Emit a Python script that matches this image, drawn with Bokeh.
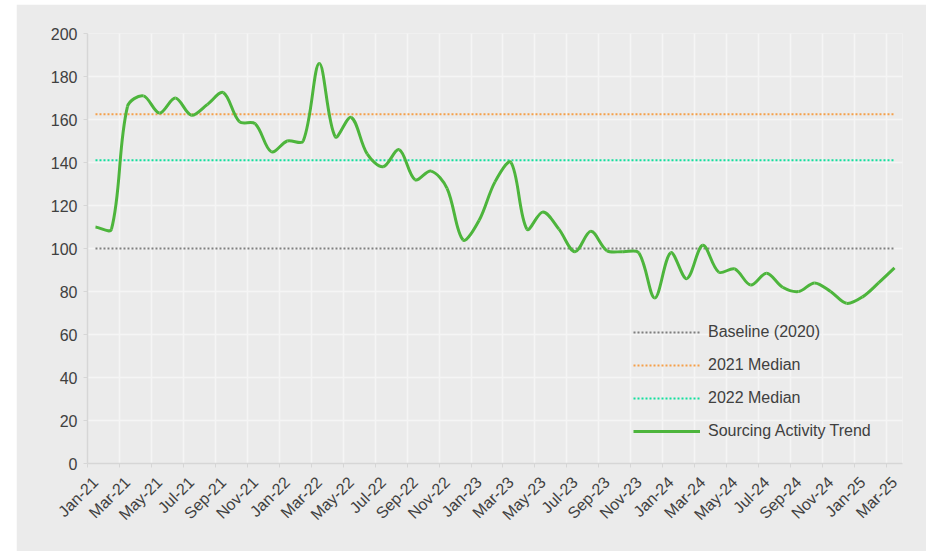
import math
from bokeh.plotting import figure
from bokeh.models import Range1d, FixedTicker, Legend, LegendItem, ColumnDataSource, Spacer
from bokeh.layouts import row, column
from bokeh.embed import file_html
from bokeh.resources import INLINE

# ---- data ----
months = ["Jan-21", "Feb-21", "Mar-21", "Apr-21", "May-21", "Jun-21", "Jul-21", "Aug-21", "Sep-21", "Oct-21", "Nov-21", "Dec-21",
          "Jan-22", "Feb-22", "Mar-22", "Apr-22", "May-22", "Jun-22", "Jul-22", "Aug-22", "Sep-22", "Oct-22", "Nov-22", "Dec-22",
          "Jan-23", "Feb-23", "Mar-23", "Apr-23", "May-23", "Jun-23", "Jul-23", "Aug-23", "Sep-23", "Oct-23", "Nov-23", "Dec-23",
          "Jan-24", "Feb-24", "Mar-24", "Apr-24", "May-24", "Jun-24", "Jul-24", "Aug-24", "Sep-24", "Oct-24", "Nov-24", "Dec-24",
          "Jan-25", "Feb-25", "Mar-25"]
activity = [110, 109, 166, 171, 163, 170, 162, 167, 172.5, 159, 158, 145,
            150, 150, 186, 152, 161, 144, 138, 146, 132, 136, 128, 104,
            113, 131, 140, 109, 117, 109, 98.5, 108, 99, 98.5, 98, 77,
            98, 86, 101.5, 89, 90.5, 83, 88.5, 82, 80, 84, 80, 74.5,
            77.5, 84, 91]
baseline_2020 = 100
median_2021 = 162.5
median_2022 = 141
y_ticks = [0, 20, 40, 60, 80, 100, 120, 140, 160, 180, 200]

FONT = "Liberation Sans"
TXT = "#404040"
BG = "#ebebeb"

W, H = 910, 547
BL, BR, BT, BB = 71, 24, 29, 88

idx = list(range(len(months)))
n = len(idx)

# pixel scales (used only to weight the smoothing like a spreadsheet's smoothed line)
sx = (W - BL - BR) / n
sy = (H - BT - BB) / 200.0

def dist(i, j):
    return math.hypot((idx[j] - idx[i]) * sx, (activity[j] - activity[i]) * sy)

out_c, in_c = [], []
for i in range(n):
    a = max(i - 1, 0)
    b = min(i + 1, n - 1)
    tx = idx[b] - idx[a]
    ty = activity[b] - activity[a]
    dp = dist(a, i) if i > 0 else 0.0
    dn = dist(i, b) if i < n - 1 else 0.0
    tot = dp + dn if dp + dn > 0 else 1.0
    k = 1.0 / 3.0
    out_c.append((idx[i] + tx * k * dn / tot, activity[i] + ty * k * dn / tot))
    in_c.append((idx[i] - tx * k * dp / tot, activity[i] - ty * k * dp / tot))

seg = dict(x0=[], y0=[], x1=[], y1=[], cx0=[], cy0=[], cx1=[], cy1=[])
for i in range(n - 1):
    seg["x0"].append(idx[i]); seg["y0"].append(activity[i])
    seg["x1"].append(idx[i + 1]); seg["y1"].append(activity[i + 1])
    seg["cx0"].append(out_c[i][0]); seg["cy0"].append(out_c[i][1])
    seg["cx1"].append(in_c[i + 1][0]); seg["cy1"].append(in_c[i + 1][1])

p = figure(width=W, height=H, output_backend="svg", toolbar_location=None,
           x_range=Range1d(-0.5, n - 0.5), y_range=Range1d(0, 200),
           min_border_left=BL, min_border_right=BR, min_border_top=BT, min_border_bottom=BB)
p.background_fill_color = BG
p.border_fill_color = BG
p.outline_line_color = None

# grid
p.xgrid.ticker = FixedTicker(ticks=[i + 0.5 for i in idx[1:-1:2]])
p.xgrid.grid_line_color = "#f5f5f5"
p.xgrid.grid_line_width = 1.5
p.ygrid.ticker = FixedTicker(ticks=y_ticks)
p.ygrid.grid_line_color = "#f5f5f5"
p.ygrid.grid_line_width = 1.5

# axes
xa = p.xaxis[0]
xa.ticker = FixedTicker(ticks=idx[::2], minor_ticks=[i - 0.5 for i in idx[::2]])
xa.major_label_overrides = {i: months[i] for i in idx[::2]}
xa.major_label_orientation = math.pi / 4
xa.major_tick_line_color = None
xa.minor_tick_line_color = "#d6d6d6"
xa.minor_tick_out = 4
xa.minor_tick_in = 0
xa.axis_line_color = "#d6d6d6"
xa.axis_line_width = 1.5
xa.major_label_text_font = FONT
xa.major_label_text_font_size = "16px"
xa.major_label_text_color = TXT
xa.major_label_standoff = 10

ya = p.yaxis[0]
ya.ticker = FixedTicker(ticks=y_ticks)
ya.minor_tick_line_color = None
ya.major_tick_line_color = "#d6d6d6"
ya.major_tick_out = 4
ya.major_tick_in = 0
ya.axis_line_color = "#d6d6d6"
ya.axis_line_width = 1.5
ya.major_label_text_font = FONT
ya.major_label_text_font_size = "16px"
ya.major_label_text_color = TXT
ya.major_label_standoff = 6

# reference lines
ends = [idx[0], idx[-1]]
r_base = p.line(ends, [baseline_2020] * 2, line_color="#7f7f7f", line_width=2, line_dash="2 2")
r_m21 = p.line(ends, [median_2021] * 2, line_color="#f5a04a", line_width=2, line_dash="2 2")
r_m22 = p.line(ends, [median_2022] * 2, line_color="#12e09e", line_width=2, line_dash="2 2")

# trend
src = ColumnDataSource(seg)
r_trend = p.bezier(x0="x0", y0="y0", x1="x1", y1="y1", cx0="cx0", cy0="cy0", cx1="cx1", cy1="cy1",
                   source=src, line_color="#4db53c", line_width=3)

legend = Legend(items=[
    LegendItem(label="Baseline (2020)", renderers=[r_base]),
    LegendItem(label="2021 Median", renderers=[r_m21]),
    LegendItem(label="2022 Median", renderers=[r_m22]),
    LegendItem(label="Sourcing Activity Trend", renderers=[r_trend]),
], location=(546, 17))
legend.background_fill_alpha = 0
legend.border_line_color = None
legend.padding = 0
legend.margin = 0
legend.glyph_width = 67
legend.glyph_height = 30
legend.label_height = 30
legend.spacing = 3
legend.label_standoff = 8
legend.label_text_font = FONT
legend.label_text_font_size = "16px"
legend.label_text_color = TXT
p.add_layout(legend)

layout = column(Spacer(width=10, height=4), row(Spacer(width=16, height=10), p, spacing=0), spacing=0)
open("out.html", "w").write(file_html(layout, INLINE))
